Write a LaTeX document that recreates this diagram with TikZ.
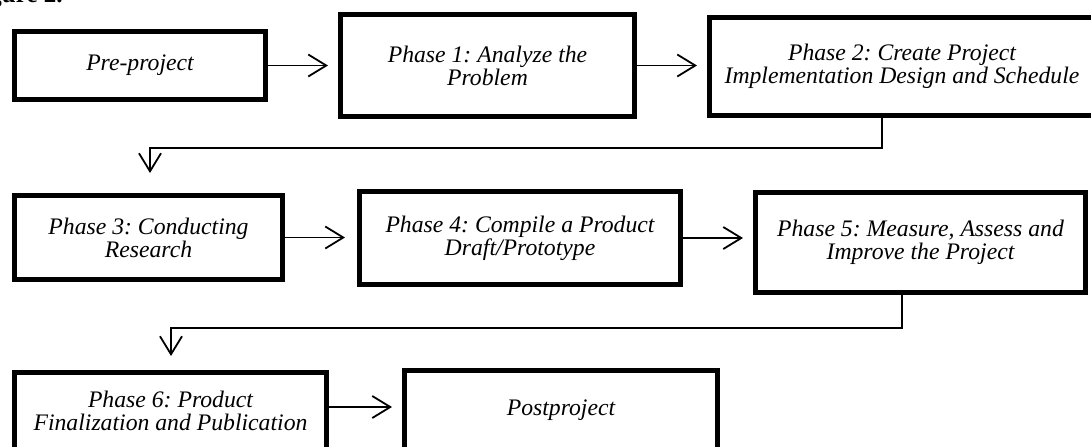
\documentclass[tikz,border=0pt]{standalone}
\usepackage{fontspec}
\setmainfont{Liberation Serif}
\usetikzlibrary{arrows.meta,calc}
\frenchspacing
\begin{document}
\begin{tikzpicture}[x=0.5pt,y=-0.5pt,
  box/.style={draw,line width=2.5pt,align=center,inner sep=0pt,
    font=\fontsize{11.85}{11.5}\selectfont\itshape},
  arr/.style={line width=0.9pt,-{Straight Barb[length=9pt,width=11pt,line width=0.9pt]}}]
\useasboundingbox (0,0) rectangle (1091,446);
\clip (0,0) rectangle (1091,446);
\node[anchor=base east,inner sep=0pt,font=\fontsize{12.5}{14}\selectfont\bfseries] (fig) at (63,2) {Figure 2.};
\node[box,minimum width=125.5pt,minimum height=34pt] (pre) at (140,65.5) {Pre-project};
\node[box,minimum width=147pt,minimum height=51pt] (p1) at (487.5,65.5) {Phase 1: Analyze the\\Problem};
\node[box,minimum width=192.5pt,minimum height=49pt] (p2) at (902,66.5) {Phase 2: Create Project\\Implementation Design and Schedule};
\node[box,minimum width=134pt,minimum height=42pt] (p3) at (148.5,237.5) {Phase 3: Conducting\\Research};
\node[box,minimum width=160.5pt,minimum height=46.5pt] (p4) at (520,238) {Phase 4: Compile a Product\\Draft/Prototype};
\node[box,minimum width=165pt,minimum height=50pt] (p5) at (920.5,242.5) {Phase 5: Measure, Assess and\\Improve the Project};
\node[box,minimum width=156pt,minimum height=38.5pt] (p6) at (170.5,411) {Phase 6: Product\\Finalization and Publication};
\node[box,minimum width=156.5pt,minimum height=39.5pt] (p7) at (561,410) {Postproject};
\draw[arr] (pre.east) -- ($(pre.east -| p1.west)+(-10,0)$);
\draw[arr] (p1.east) -- ($(p1.east -| p2.west)+(-10,0)$);
\draw[arr] (p3.east) -- ($(p3.east -| p4.west)+(-12,0)$);
\draw[arr] (p4.east) -- ($(p4.east -| p5.west)+(-10,0)$);
\draw[arr] ($(p6.east)+(0,-4)$) -- ($(p6.east -| p7.west)+(-10,-4)$);
\coordinate (k1) at (882,148);
\coordinate (k2) at (150,148);
\draw[arr] (p2.south -| k1) -- (k1) -- (k2) -- ($(p3.north -| k2)+(0,-20)$);
\coordinate (k3) at (902,328);
\coordinate (k4) at (171,328);
\draw[arr] (p5.south -| k3) -- (k3) -- (k4) -- ($(p6.north -| k4)+(0,-14)$);
\end{tikzpicture}
\end{document}
